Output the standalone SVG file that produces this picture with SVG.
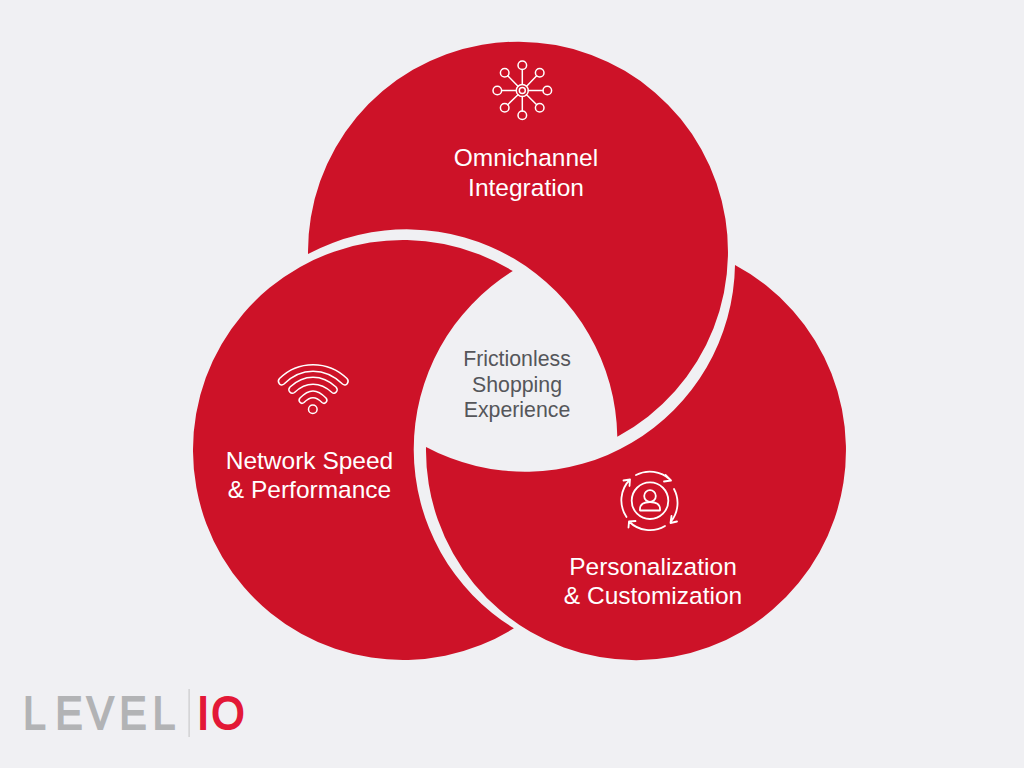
<svg xmlns="http://www.w3.org/2000/svg" width="1024" height="768" viewBox="0 0 1024 768">
<style>
.c{fill:#cd1228}
.t{font-family:"Liberation Sans",Arial,sans-serif;font-size:24.500px;fill:#fff;text-anchor:middle}
.m{font-family:"Liberation Sans",Arial,sans-serif;font-size:21.300px;fill:#55565a;text-anchor:middle}
.i{fill:none;stroke:#fff;stroke-width:1.500;stroke-linecap:round;stroke-linejoin:round}
.l{font-family:"Liberation Sans",Arial,sans-serif;font-size:46px;stroke-width:2}
</style>
<rect width="1024" height="768" fill="#f0f0f3"/>
<g id="omnichannel">
<path class="c" d="M308 254A210 210 0 1 1 617.300 436.700A210.500 210.500 0 0 0 308 254Z"/>
<g class="i"><circle cx="522.300" cy="90.500" r="6"/><circle cx="522.300" cy="90.500" r="3"/><circle cx="522.300" cy="65.300" r="4.300"/><circle cx="522.300" cy="115.300" r="4.300"/><circle cx="497.300" cy="90.500" r="4.300"/><circle cx="547.300" cy="90.500" r="4.300"/><circle cx="504.700" cy="72.700" r="4.300"/><circle cx="539.700" cy="72.700" r="4.300"/><circle cx="504.700" cy="107.700" r="4.300"/><circle cx="539.700" cy="107.700" r="4.300"/>
<path d="M522.300 69.600V84.500M522.300 96.500V111M501.600 90.500H516.300M528.300 90.500H543M507.700 75.700L518 86.200M536.700 75.700L526.600 86.200M507.700 104.700L518 94.800M536.700 104.700L526.600 94.800"/></g>
<text class="t"><tspan x="526" y="166">Omnichannel</tspan><tspan x="526" y="196">Integration</tspan></text>
</g>
<g id="network">
<path class="c" d="M512.800 271A210 210 0 1 0 513.900 628.300A210 210 0 0 1 512.800 271Z"/>
<g class="i"><circle cx="312.800" cy="409.300" r="4.300"/>
<path d="M279.500 378.500C298 360 328 360 347 378.500C350 382 346 387 342.500 384C325 367 301 367 284 384C280.500 387 276.500 382 279.500 378.500Z"/>
<path d="M290 387C304 374 322 374 336 387C339 390.500 335 395 332 392.500C320 381.500 306 381.500 294.500 392.500C291 395 287 390.500 290 387Z"/>
<path d="M300 398C309 388.500 317 388.500 326 398C328.500 401 325 405 322 402.500C316 396 310 396 304 402.500C301 405 297.500 401 300 398Z"/></g>
<text class="t"><tspan x="309.500" y="469">Network Speed</tspan><tspan x="309.500" y="498">&amp; Performance</tspan></text>
</g>
<g id="personalization">
<path class="c" d="M426 447A210 210 0 1 0 735 265A210 210 0 0 1 426 447Z"/>
<g class="i" style="stroke-width:1.800"><circle cx="650" cy="500.700" r="18.300"/><circle cx="650" cy="496" r="5.800"/>
<path d="M640 510.500C639.500 504 644 502 650 502C656 502 660.500 504 660 510.500Z"/>
<path d="M636 475A29.500 29.500 0 0 1 670 479.500M665.500 475L671 480.500L664 481.500"/>
<path d="M674 489A29.500 29.500 0 0 1 671 521.500M671.500 516L670.500 523L677 521.500"/>
<path d="M665 526A29.500 29.500 0 0 1 629 521.500M628.500 527.500L629 521.500L635.500 521"/>
<path d="M626.500 517A29.500 29.500 0 0 1 630 479.500M623.500 480.500L630 479.500L629.500 486"/></g>
<text class="t"><tspan x="653" y="575">Personalization</tspan><tspan x="653" y="604">&amp; Customization</tspan></text>
</g>
<g id="center">
<text class="m"><tspan x="517" y="366">Frictionless</tspan><tspan x="517" y="392">Shopping</tspan><tspan x="517" y="417">Experience</tspan></text>
</g>
<g id="logo">
<text class="l" transform="scale(.88 1)" x="26.500 63 98.500 135.700 173.500" y="729" fill="#b2b3b5" stroke="#b2b3b5">LEVEL</text>
<rect x="188.500" y="689" width="1.200" height="48" fill="#c9c9cb"/>
<text class="l" transform="scale(.92 1)" x="214.500 230" y="729" fill="#e31837" stroke="#e31837">IO</text>
</g>
<g id="connectors"/>
</svg>
